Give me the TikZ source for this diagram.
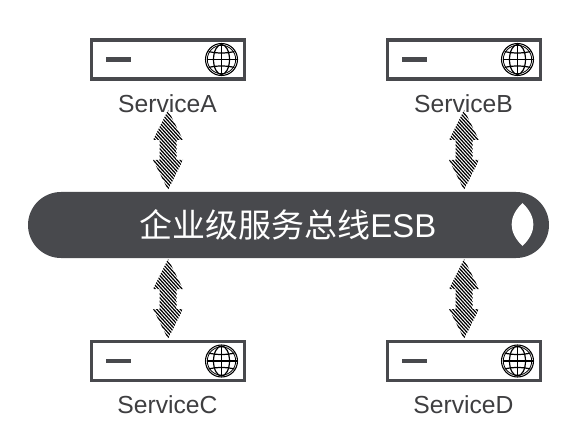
\documentclass[tikz,border=0pt]{standalone}
\usepackage{fontspec}
\setmainfont{Liberation Sans}
\newfontfamily\cjkfont{Noto Sans CJK SC}
\usetikzlibrary{calc}
\definecolor{dk}{HTML}{48494D}
\definecolor{txt}{HTML}{3E3E40}
\newcommand{\hatcharrow}[2]{%
  \begin{scope}
    \clip (#1) -- ++(15,30) -- ++(-6.5,0) -- ++(0,20) -- ++(6.5,0) -- (#2) -- ++(-15,-30) -- ++(6.5,0) -- ++(0,-20) -- ++(-6.5,0) -- cycle;
    \foreach \k in {-30,...,24} {
      \draw[black,line width=0.9pt] ($(#1)+(-30,{\k*3.7})$) -- ++(60,66);
    }
  \end{scope}}
\tikzset{
  x=0.75pt,y=-0.75pt,
  svcbox/.style={draw=dk,line width=2.6pt,fill=white,minimum width=115pt,minimum height=29.5pt,inner sep=0pt,outer sep=0pt},
  svclabel/.style={text=txt,font=\fontsize{18.5pt}{20pt}\selectfont,inner sep=0pt},
  dashbar/.style={fill=dk,minimum width=18.75pt,minimum height=3.6pt,inner sep=0pt},
  globe/.pic={
    \draw[black,line width=0.8pt] (0,0) circle (16);
    \draw[black,line width=0.6pt] (0,0) circle (14.2);
    \draw[black,line width=0.9pt] (0,-15) -- (0,15);
    \draw[black,line width=0.9pt] (-15,0) -- (15,0);
    \draw[black,line width=0.9pt] (0,0) ellipse (8 and 15);
    \draw[black,line width=0.9pt] (-13,-8) .. controls (-5,-6) and (5,-6) .. (13,-8);
    \draw[black,line width=0.9pt] (-13,8) .. controls (-5,6) and (5,6) .. (13,8);
  }
}
\begin{document}
\begin{tikzpicture}
\useasboundingbox[fill=white] (0,0) rectangle (582,431);
\node[svcbox] (boxA) at (168,59.5) {};
\node[svcbox] (boxB) at (464,59.5) {};
\node[svcbox] (boxC) at (168,361) {};
\node[svcbox] (boxD) at (464,361) {};
\foreach \n in {A,B,C,D} {
  \node[dashbar] (bar\n) at ($(box\n.center)+(-49.5,0)$) {};
  \pic at ($(box\n.center)+(53.5,0)$) {globe};
}
\node[svclabel] (labA) at (167.5,104) {ServiceA};
\node[svclabel] (labB) at (463.5,104) {ServiceB};
\node[svclabel] (labC) at (167.5,405) {ServiceC};
\node[svclabel] (labD) at (463.5,405) {ServiceD};
\fill[dk,rounded corners=33*0.75pt] (28,192) rectangle (549,258);
\node[text=white,inner sep=0pt,font=\fontsize{24.7pt}{26pt}\selectfont] (bus) at (288,225) {{\cjkfont 企业级服务总线}ESB};
\fill[white] (522.5,203) .. controls (508,217) and (508,232) .. (522.5,246) .. controls (537,232) and (537,217) .. (522.5,203) -- cycle;
\coordinate (a1) at (168,110); \coordinate (a2) at (168,190);
\coordinate (b1) at (464,110); \coordinate (b2) at (464,190);
\coordinate (c1) at (168,259); \coordinate (c2) at (168,339);
\coordinate (d1) at (464,259); \coordinate (d2) at (464,339);
\hatcharrow{a1}{a2}
\hatcharrow{b1}{b2}
\hatcharrow{c1}{c2}
\hatcharrow{d1}{d2}
\end{tikzpicture}
\end{document}
